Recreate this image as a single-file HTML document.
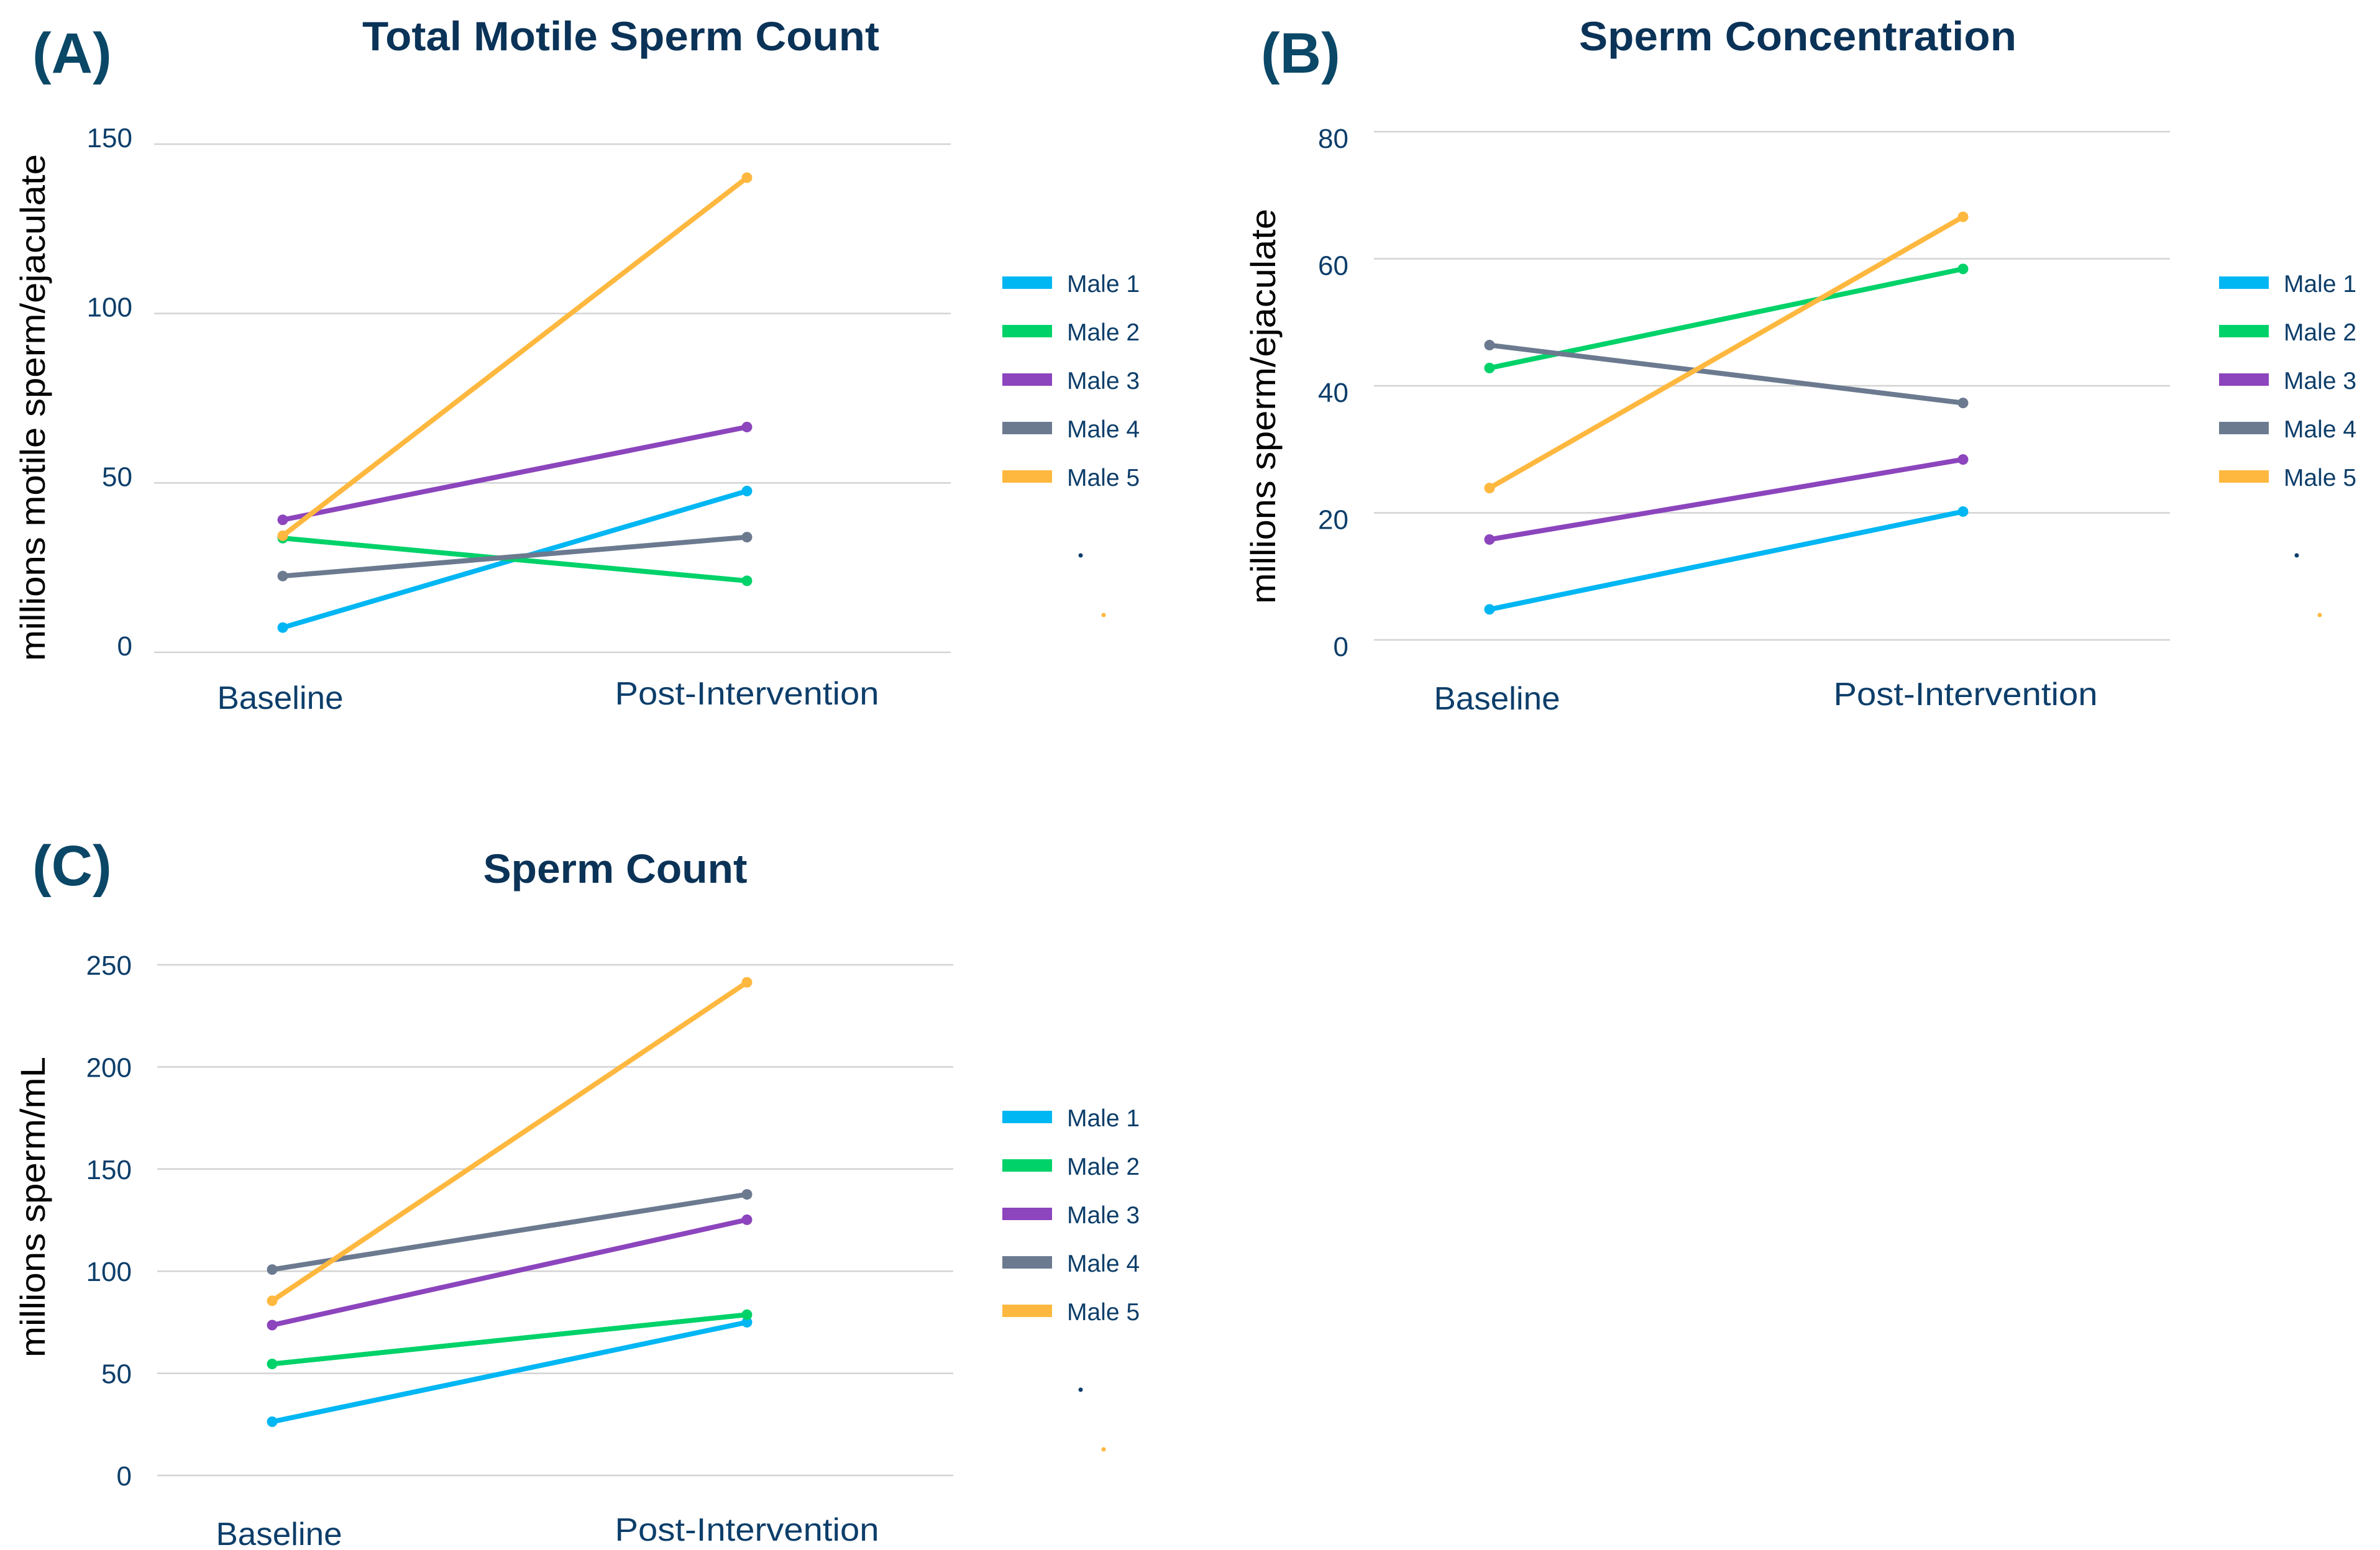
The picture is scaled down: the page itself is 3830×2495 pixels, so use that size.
<!DOCTYPE html>
<html><head><meta charset="utf-8"><style>
html,body{margin:0;padding:0;background:#fff;}
svg{display:block;}
text{font-family:"Liberation Sans",sans-serif;}
</style></head><body>
<svg id="fig" width="3830" height="2495" viewBox="0 0 3830 2495" xmlns="http://www.w3.org/2000/svg">
<rect width="3830" height="2495" fill="#fff"/>
</svg>
<script>
const NS='http://www.w3.org/2000/svg';
const categories=['Baseline','Post-Intervention'];
const seriesNames=['Male 1','Male 2','Male 3','Male 4','Male 5'];
const seriesColors=['#00b6f3','#00d26a','#8c45bd','#6c7a90','#ffb83f'];
// Chart A: Total Motile Sperm Count
const aTicks=[0,50,100,150];
const aBaseline=[7.3,33.7,39.1,22.5,34.4];
const aPost=[47.6,21.1,66.5,34.0,140.1];
// Chart B: Sperm Concentration
const bTicks=[0,20,40,60,80];
const bBaseline=[4.8,42.8,15.8,46.4,23.9];
const bPost=[20.2,58.4,28.4,37.3,66.6];
// Chart C: Sperm Count
const cTicks=[0,50,100,150,200,250];
const cBaseline=[26.3,54.6,73.6,100.8,85.5];
const cPost=[75.0,78.7,125.2,137.6,241.4];

const svg=document.getElementById('fig');
function el(tag,attrs,parent,txt){const e=document.createElementNS(NS,tag);for(const k in attrs)e.setAttribute(k,attrs[k]);if(txt!==undefined)e.textContent=txt;(parent||svg).appendChild(e);return e;}

function drawChart(cfg,ticks,base,post){
  const g=el('g',{});
  
  
  const yMax=ticks[ticks.length-1];
  const Y=v=>cfg.y0+(cfg.yTop-cfg.y0)*v/yMax;
  const X=i=>cfg.xCat[i];
  // panel label
  const pl=el('text',{x:cfg.plX,y:cfg.plY,'font-size':92,'font-weight':'bold',fill:'#0b4767'},g,cfg.panel);
  
  
  const t=el('text',{x:cfg.titleX,y:cfg.titleY,'font-size':66,'font-weight':'bold',fill:'#0b3358','text-anchor':'middle',textLength:cfg.titleW,lengthAdjust:'spacingAndGlyphs'},g,cfg.title);
  
  
  // gridlines and ticks
  ticks.forEach(v=>{
    const gl=el('line',{x1:cfg.gx1,x2:cfg.gx2,y1:Y(v),y2:Y(v),stroke:'#d3d3d3','stroke-width':2.5},g);
    
    
    const tl=el('text',{x:cfg.tickX,y:Y(v)+cfg.tickDy,'font-size':44,fill:'#0d3e6a','text-anchor':'end'},g,String(v));
    
    
  });
  // y axis title
  const yt=el('text',{x:0,y:0,'font-size':56,fill:'#000','text-anchor':'middle',textLength:cfg.ytLen,lengthAdjust:'spacingAndGlyphs',transform:`translate(${cfg.ytX},${cfg.ytY}) rotate(-90)`},g,cfg.yTitle);
  
  
  // category labels
  categories.forEach((c,i)=>{
    const cl=el('text',{x:cfg.catLX[i],y:cfg.catY[i],'font-size':52,fill:'#0d3e6a','text-anchor':'middle',textLength:cfg.catW[i],lengthAdjust:'spacingAndGlyphs'},g,c);
    
    
  });
  // series lines
  seriesNames.forEach((n,i)=>{
    const sg=el('g',{},g);
    
    
    el('line',{x1:X(0),y1:Y(base[i]),x2:X(1),y2:Y(post[i]),stroke:seriesColors[i],'stroke-width':8,'stroke-linecap':'round'},sg);
    [base[i],post[i]].forEach((v,j)=>{
      const c=el('circle',{cx:X(j),cy:Y(v),r:8.5,fill:seriesColors[i]},sg);
      
      
    });
  });
  // legend
  const lg=el('g',{},g);
  
  
  seriesNames.forEach((n,i)=>{
    const cy=cfg.legY+i*78;
    const e=el('g',{},lg);
    
    
    el('rect',{x:cfg.legX,y:cy-10,width:80,height:20,fill:seriesColors[i]},e);
    el('text',{x:cfg.legX+104,y:cy+15,'font-size':39,fill:'#0d3e6a'},e,n);
  });
  el('circle',{cx:cfg.dot1[0],cy:cfg.dot1[1],r:3.5,fill:'#0d3e6a'},g);
  el('circle',{cx:cfg.dot2[0],cy:cfg.dot2[1],r:3.5,fill:'#ffb83f'},g);
}

drawChart({id:'total-motile',panel:'(A)',plX:52,plY:117,title:'Total Motile Sperm Count',titleX:999,titleY:81,titleW:832,
  y0:1050,yTop:232,gx1:248,gx2:1530,tickX:213,tickDy:5,xCat:[455,1202],
  yTitle:'millions motile sperm/ejaculate',ytX:72,ytY:656,ytLen:816,
  catLX:[451,1202],catY:[1141,1134],catW:[203,425],legX:1613,legY:455,dot1:[1739,894],dot2:[1776,990]},aTicks,aBaseline,aPost);

drawChart({id:'sperm-concentration',panel:'(B)',plX:2029,plY:117,title:'Sperm Concentration',titleX:2893,titleY:81,titleW:704,
  y0:1030,yTop:212,gx1:2211,gx2:3492,tickX:2170,tickDy:26,xCat:[2397,3159],
  yTitle:'millions sperm/ejaculate',ytX:2052,ytY:654,ytLen:636,
  catLX:[2409,3163],catY:[1142,1135],catW:[203,425],legX:3571,legY:455,dot1:[3696,894],dot2:[3733,990]},bTicks,bBaseline,bPost);

drawChart({id:'sperm-count',panel:'(C)',plX:52,plY:1425,title:'Sperm Count',titleX:990,titleY:1421,titleW:425,
  y0:2375,yTop:1553,gx1:253,gx2:1534,tickX:212,tickDy:16,xCat:[438,1202],
  yTitle:'millions sperm/mL',ytX:72,ytY:1943,ytLen:484,
  catLX:[449,1202],catY:[2487,2480],catW:[203,425],legX:1613,legY:1798,dot1:[1739,2237],dot2:[1776,2333]},cTicks,cBaseline,cPost);
</script>
</body></html>
